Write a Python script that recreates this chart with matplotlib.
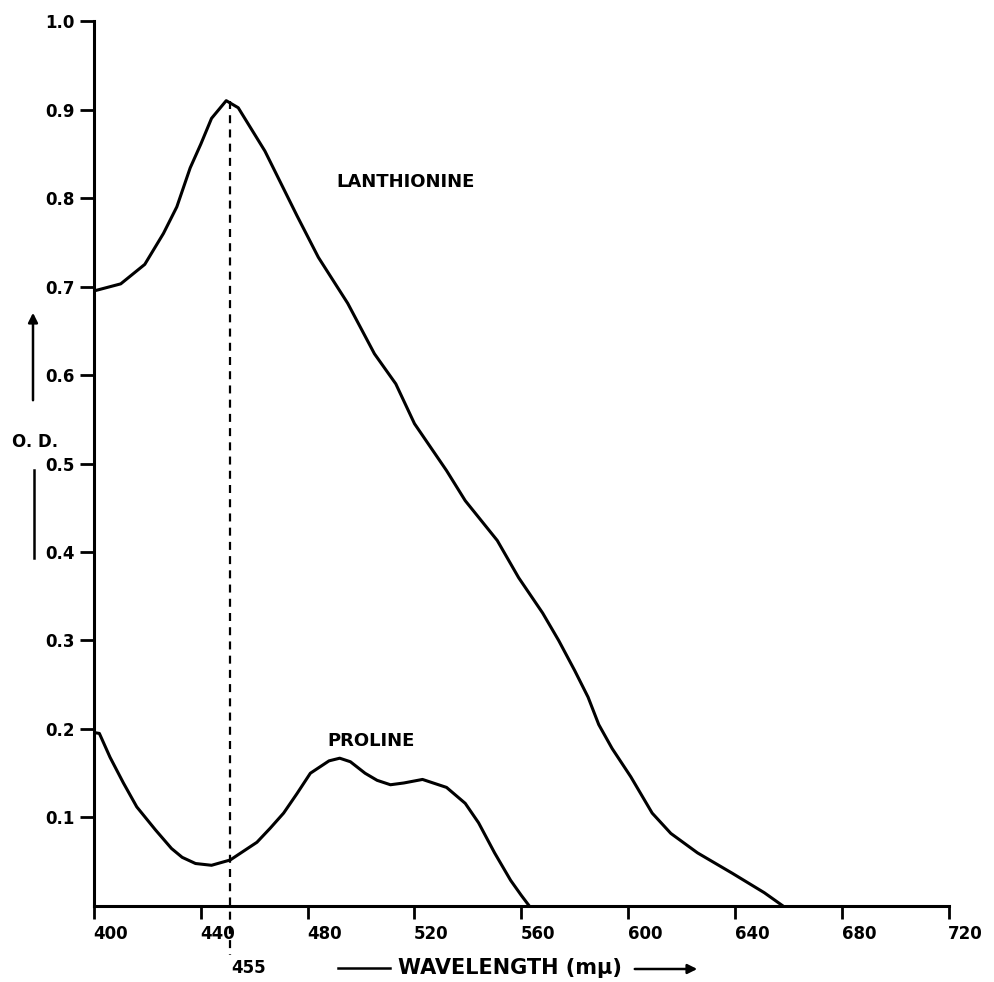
import matplotlib
matplotlib.use('Agg')
import matplotlib.pyplot as plt
from matplotlib.patches import FancyArrowPatch
from matplotlib.transforms import ScaledTranslation

# values
lan_x = [400, 410, 419, 426, 431, 436, 440, 444, 449.5, 454, 464, 476, 484, 495, 505, 513, 520,
         532, 539, 551, 559, 568, 574, 580, 585, 589, 594, 601, 609, 616, 626, 639, 651, 658]
lan_y = [0.695, 0.703, 0.725, 0.76, 0.79, 0.834, 0.861, 0.89, 0.91, 0.902, 0.853, 0.78, 0.733,
         0.681, 0.624, 0.590, 0.545, 0.492, 0.458, 0.413, 0.371, 0.331, 0.30, 0.266, 0.236,
         0.205, 0.178, 0.146, 0.105, 0.082, 0.060, 0.037, 0.015, 0.0]

pro_x = [400, 402, 406, 411, 416, 423, 429, 433, 438, 444, 451, 456, 461, 466, 471, 476, 481,
         485, 488, 492, 496, 501.5, 506, 511, 516, 523, 532, 539, 544, 550, 556, 560, 563]
pro_y = [0.196, 0.195, 0.168, 0.139, 0.112, 0.086, 0.065, 0.055, 0.048, 0.046, 0.052, 0.062,
         0.072, 0.088, 0.105, 0.127, 0.150, 0.158, 0.164, 0.167, 0.163, 0.150, 0.142, 0.137,
         0.139, 0.143, 0.134, 0.116, 0.094, 0.060, 0.029, 0.012, 0.0]

peak_x = 451
peak_y = 0.91

xticks = [400, 440, 480, 520, 560, 600, 640, 680, 720]
yticks = [0.1, 0.2, 0.3, 0.4, 0.5, 0.6, 0.7, 0.8, 0.9, 1.0]
ylabels = ['0.1', '0.2', '0.3', '0.4', '0.5', '0.6', '0.7', '0.8', '0.9', '1.0']

plt.rcParams['font.family'] = ['DejaVu Sans']
plt.rcParams['font.weight'] = 'bold'

fig = plt.figure(figsize=(9.94, 9.82), dpi=100)
ax = fig.add_axes([0.0946, 0.0774, 0.8597, 0.9012])

ax.plot(lan_x, lan_y, color='black', lw=2.2, solid_capstyle='round', solid_joinstyle='round')
ax.plot(pro_x, pro_y, color='black', lw=2.2, solid_capstyle='round', solid_joinstyle='round')
# dashed line at the peak, runs on below the axis down to the 455 label
ax.plot([peak_x, peak_x], [peak_y, -0.055], color='black', lw=1.6,
        dashes=(3.6, 2.8), clip_on=False)

ax.set_xlim(400, 720)
ax.set_ylim(0, 1.0)
for s in ['top', 'right']:
    ax.spines[s].set_visible(False)
for s in ['left', 'bottom']:
    ax.spines[s].set_linewidth(2.2)

ax.set_xticks(xticks)
ax.set_xticklabels([str(v) for v in xticks], fontsize=12, fontweight='bold')
ax.set_yticks(yticks)
ax.set_yticklabels(ylabels, fontsize=12, fontweight='bold')
ax.tick_params(axis='x', direction='out', length=9, width=2, pad=5)
ax.tick_params(axis='y', direction='out', length=10, width=2, pad=4)

# in the original the x labels sit a bit right of their ticks
shift = ScaledTranslation(0.17, 0, fig.dpi_scale_trans)
for lab in ax.get_xticklabels():
    lab.set_transform(lab.get_transform() + shift)

ax.text(0.364, 0.818, 'LANTHIONINE', transform=ax.transAxes, fontsize=13, fontweight='bold',
        ha='center', va='center')
ax.text(0.3245, 0.186, 'PROLINE', transform=ax.transAxes, fontsize=13, fontweight='bold',
        ha='center', va='center')

# texts below and left of the axes, placed by figure pixels
W, H = 994.0, 982.0
fig.text(249 / W, 1 - 968 / H, '455', fontsize=12, fontweight='bold', ha='center', va='center')
fig.text(398 / W, 1 - 968 / H, 'WAVELENGTH (mμ)', fontsize=15, fontweight='bold',
         ha='left', va='center')
fig.add_artist(plt.Line2D([338 / W, 390 / W], [1 - 968 / H, 1 - 968 / H], color='black', lw=1.8))
fig.patches.append(FancyArrowPatch((632 / W, 1 - 969 / H), (700 / W, 1 - 969 / H),
                   transform=fig.transFigure, arrowstyle='-|>', mutation_scale=14,
                   color='black', lw=1.8))

fig.text(35 / W, 1 - 442 / H, 'O. D.', fontsize=12, fontweight='bold', ha='center', va='center')
fig.patches.append(FancyArrowPatch((33 / W, 1 - 403 / H), (33 / W, 1 - 310 / H),
                   transform=fig.transFigure, arrowstyle='-|>', mutation_scale=14,
                   color='black', lw=1.8))
fig.add_artist(plt.Line2D([34 / W, 34 / W], [1 - 470 / H, 1 - 558 / H], color='black', lw=1.8))

fig.savefig('out.png', dpi=100, facecolor='white')
